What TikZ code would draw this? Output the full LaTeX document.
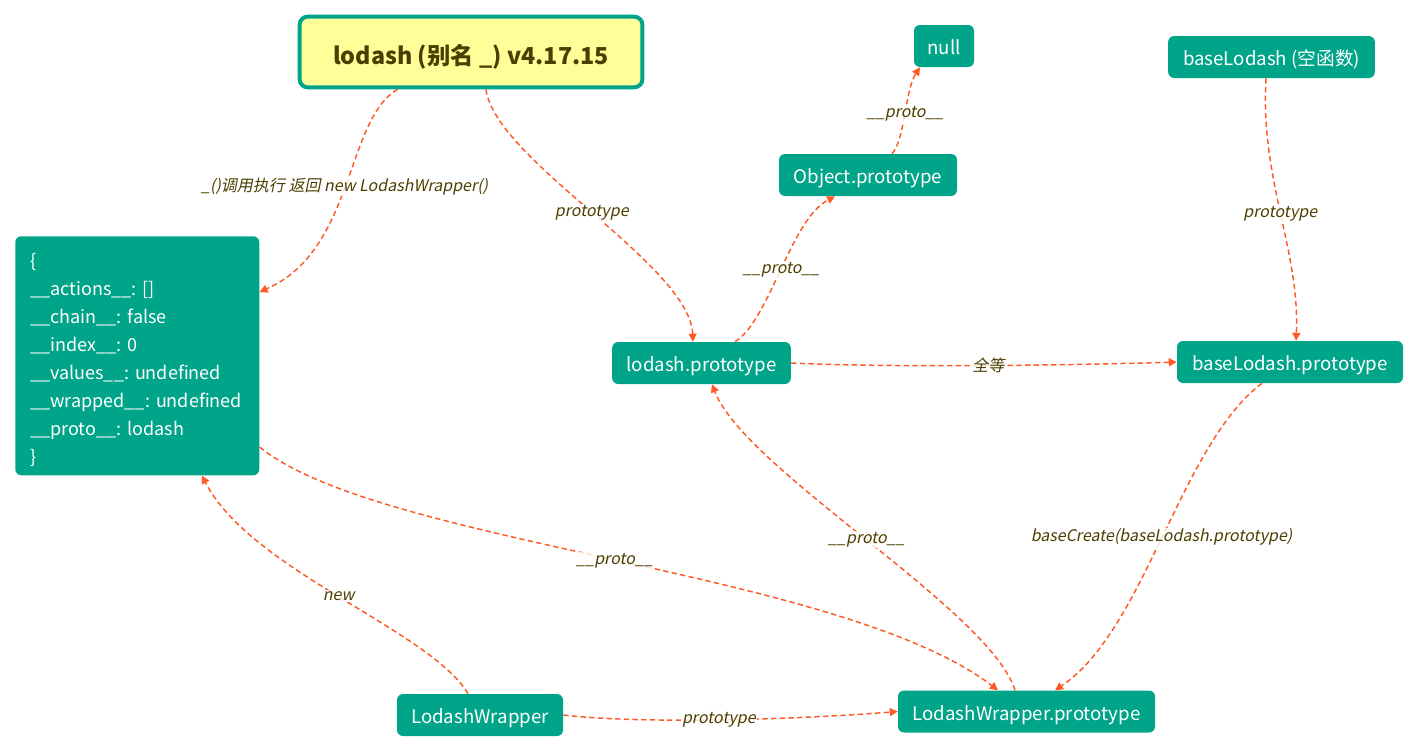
\documentclass[tikz,border=0pt]{standalone}
\usepackage{fontspec}
\setmainfont{Noto Sans CJK SC}[AutoFakeSlant=0.2]
\usetikzlibrary{arrows.meta}
\frenchspacing
\definecolor{teal}{HTML}{00A488}
\definecolor{lodashyellow}{HTML}{FFFF99}
\definecolor{edgeorange}{HTML}{FF5A26}
\definecolor{labelink}{HTML}{4A3F00}
\tikzset{
  objbox/.style={fill=teal, text=white, rounded corners=4.5pt, inner sep=0pt,
    minimum height=31.5pt, text height=14pt, text depth=1pt,
    font=\fontsize{14}{16}\selectfont},
  rootbox/.style={fill=lodashyellow, draw=teal, line width=3pt, rounded corners=6pt,
    text=labelink, minimum width=257pt, minimum height=53pt,
    text height=20pt, text depth=1.2pt,
    font=\fontsize{17.5}{22}\selectfont\bfseries},
  link/.style={draw=edgeorange, line width=1.1pt, dash pattern=on 4pt off 2.5pt,
    -{Triangle[length=6pt,width=6pt]}},
  lbl/.style={fill=white, fill opacity=0.8, text opacity=1, text=labelink,
    inner sep=1pt, font=\fontsize{12}{14}\selectfont\itshape},
}
\begin{document}
\begin{tikzpicture}[x=0.75pt, y=-0.75pt]
\useasboundingbox (0,0) rectangle (1420,753);

% nodes
\node[rootbox] (lodash) at (471,52) {lodash (别名 \_) v4.17.15};
\node[objbox, minimum width=45pt] (null) at (944,46) {null};
\node[objbox, minimum width=155pt] (baselodash) at (1271.5,57) {baseLodash (空函数)};
\node[objbox, minimum width=133.5pt] (objproto) at (868,175) {Object.prototype};
\node[objbox, minimum width=134pt] (lproto) at (701.5,363) {lodash.prototype};
\node[objbox, minimum width=169.5pt] (blproto) at (1290,362) {baseLodash.prototype};
\node[objbox, minimum width=124.5pt] (lw) at (480,715) {LodashWrapper};
\node[objbox, minimum width=192.75pt] (lwproto) at (1026.5,711.5) {LodashWrapper.prototype};
\node[fill=teal, text=white, rounded corners=4.5pt, anchor=north west,
      minimum width=183pt, minimum height=179.25pt,
      text width=160.5pt, align=left, inner xsep=11.25pt, inner ysep=0pt,
      font=\fontsize{13.5}{21}\selectfont] (inst) at (15,236)
  {\rule{0pt}{17pt}\{\\
   \_\_actions\_\_: []\\
   \_\_chain\_\_: false\\
   \_\_index\_\_: 0\\
   \_\_values\_\_: undefined\\
   \_\_wrapped\_\_: undefined\\
   \_\_proto\_\_: lodash\\
   \}};

% connectors
\draw[link] (lodash.south west) ++(100,0) coordinate (a1)
  (a1) .. controls (345,120) and (355,250) .. node[lbl, pos=0.5] {\_()调用执行 返回 new LodashWrapper()} (inst.north east |- 0,292);
\draw[link] (lodash.south -| 486,0) .. controls (495,160) and (690,265) .. node[lbl, pos=0.5] {prototype} (lproto.north -| 693,0);
\draw[link] (lproto.north -| 735,0) .. controls (770,320) and (790,220) .. node[lbl, pos=0.5] {\_\_proto\_\_} (objproto.south -| 835,0);
\draw[link] (objproto.north -| 892,0) .. controls (905,140) and (905,90) .. node[lbl, pos=0.5] {\_\_proto\_\_} (null.south -| 920,0);
\draw[link] (baselodash.south -| 1266,0) .. controls (1260,180) and (1300,250) .. node[lbl, pos=0.5] {prototype} (blproto.north -| 1296,0);
\draw[link] (lproto.east) .. controls (900,368) and (1080,365) .. node[lbl, pos=0.5] {全等} (blproto.west);
\draw[link] (blproto.south -| 1262,0) .. controls (1180,445) and (1145,630) .. node[lbl, pos=0.5] {baseCreate(baseLodash.prototype)} (lwproto.north -| 1055,0);
\draw[link] (lwproto.north -| 1015,0) .. controls (990,610) and (745,470) .. node[lbl, pos=0.5] {\_\_proto\_\_} (lproto.south -| 712,0);
\draw[link] (inst.east |- 0,447) .. controls (380,545) and (840,570) .. node[lbl, pos=0.5] {\_\_proto\_\_} (lwproto.north -| 998,0);
\draw[link] (lw.north -| 468,0) .. controls (430,630) and (250,570) .. node[lbl, pos=0.5] {new} (inst.south -| 202,0);
\draw[link] (lw.east) .. controls (640,724) and (790,720) .. node[lbl, pos=0.5] {prototype} (lwproto.west);
\end{tikzpicture}
\end{document}
